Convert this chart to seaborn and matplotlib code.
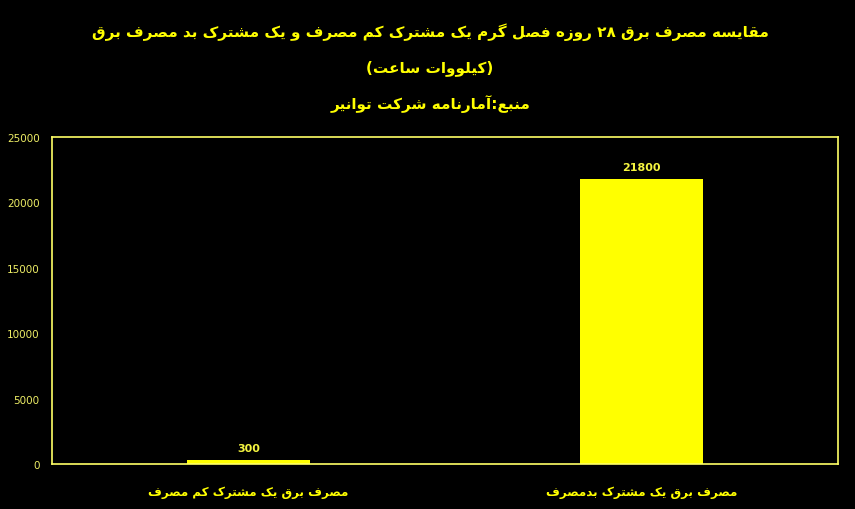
import re
import pandas as pd
import matplotlib
matplotlib.use('Agg')
import matplotlib.pyplot as plt
import seaborn as sns

# data
categories = ['مصرف برق یک مشترک کم مصرف', 'مصرف برق یک مشترک بدمصرف']
values = [300, 21800]
yticks = [0, 5000, 10000, 15000, 20000, 25000]
title_lines = [
    'مقایسه مصرف برق ۲۸ روزه فصل گرم یک مشترک کم مصرف و یک مشترک بد مصرف برق',
    '(کیلووات ساعت)',
    'منبع:آمارنامه شرکت توانیر',
]

# Arabic presentation forms: isolated, final, (initial, medial)
FORMS = {
    'ا': '\uFE8D\uFE8E', 'آ': '\uFE81\uFE82', 'د': '\uFEA9\uFEAA',
    'ر': '\uFEAD\uFEAE', 'ز': '\uFEAF\uFEB0', 'و': '\uFEED\uFEEE',
    'ب': '\uFE8F\uFE90\uFE91\uFE92', 'ت': '\uFE95\uFE96\uFE97\uFE98',
    'س': '\uFEB1\uFEB2\uFEB3\uFEB4', 'ش': '\uFEB5\uFEB6\uFEB7\uFEB8',
    'ص': '\uFEB9\uFEBA\uFEBB\uFEBC', 'ع': '\uFEC9\uFECA\uFECB\uFECC',
    'ف': '\uFED1\uFED2\uFED3\uFED4', 'ق': '\uFED5\uFED6\uFED7\uFED8',
    'ل': '\uFEDD\uFEDE\uFEDF\uFEE0', 'م': '\uFEE1\uFEE2\uFEE3\uFEE4',
    'ن': '\uFEE5\uFEE6\uFEE7\uFEE8', 'ه': '\uFEE9\uFEEA\uFEEB\uFEEC',
    'ک': '\uFB8E\uFB8F\uFB90\uFB91', 'گ': '\uFB92\uFB93\uFB94\uFB95',
    'ی': '\uFBFC\uFBFD\uFBFE\uFBFF',
}


def fa(text):
    # join letters, then put in visual (right to left) order
    shaped = []
    for i, c in enumerate(text):
        if c not in FORMS:
            shaped.append(c)
            continue
        prev = text[i - 1] if i > 0 else ''
        nxt = text[i + 1] if i + 1 < len(text) else ''
        jp = prev in FORMS and len(FORMS[prev]) == 4
        jn = nxt in FORMS and len(FORMS[c]) == 4
        f = FORMS[c]
        shaped.append(f[3] if jp and jn else f[1] if jp else f[2] if jn else f[0])
    s = ''.join(shaped)
    parts = re.split(r'([0-9\u06F0-\u06F9]+)', s)
    out = []
    for p in reversed(parts):
        if re.fullmatch(r'[0-9\u06F0-\u06F9]+', p):
            out.append(p)
        else:
            out.append(p[::-1].translate(str.maketrans('()', ')(')))
    return ''.join(out)


yellow = '#FFFF00'
df = pd.DataFrame({'label': [fa(c) for c in categories], 'value': values})

sns.set_theme(style='dark')
plt.rcParams['font.family'] = ['DejaVu Sans']

fig, ax = plt.subplots(figsize=(8.55, 5.10), dpi=100)
fig.patch.set_facecolor('black')
ax.set_facecolor('black')
fig.subplots_adjust(left=0.061, right=0.98, top=0.73, bottom=0.088)

sns.barplot(data=df, x='label', y='value', color=yellow, saturation=1,
            width=0.315, linewidth=0, ax=ax)
ax.bar_label(ax.containers[0], padding=5, color='#F5F540', fontsize=8,
             fontweight='bold')

ax.set_xlim(-0.5, 1.5)
ax.set_ylim(0, 25000)
ax.set_yticks(yticks)
ax.set_xlabel('')
ax.set_ylabel('')
ax.grid(False)
ax.tick_params(axis='y', colors='#EEEE66', labelsize=7.5, length=0, pad=9)
ax.tick_params(axis='x', colors=yellow, labelsize=8.6, length=0, pad=15)
for lbl in ax.get_xticklabels():
    lbl.set_fontweight('bold')
for sp in ax.spines.values():
    sp.set_color('#FFFF66')
    sp.set_linewidth(1.2)

for y, line in zip([0.937, 0.866, 0.796], title_lines):
    fig.text(0.503, y, fa(line), ha='center', va='center', color=yellow,
             fontsize=11, fontweight='bold')

fig.savefig('out.png', dpi=100, facecolor='black')
